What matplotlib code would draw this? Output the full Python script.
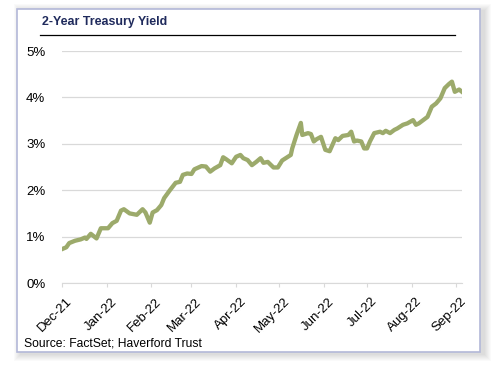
import matplotlib
matplotlib.use("Agg")
import matplotlib.pyplot as plt
import matplotlib.dates as mdates
import matplotlib.transforms as mtransforms
from matplotlib.patches import Rectangle
import pandas as pd

# 2-year treasury yield (%)
dates = ["2021-12-01", "2021-12-04", "2021-12-06", "2021-12-10", "2021-12-14",
         "2021-12-17", "2021-12-18", "2021-12-21", "2021-12-23", "2021-12-25",
         "2021-12-28", "2022-01-02", "2022-01-05", "2022-01-08", "2022-01-11",
         "2022-01-13", "2022-01-17", "2022-01-22", "2022-01-26", "2022-01-28",
         "2022-01-31", "2022-02-02", "2022-02-05", "2022-02-08", "2022-02-10",
         "2022-02-14", "2022-02-18", "2022-02-21", "2022-02-23", "2022-02-26",
         "2022-03-01", "2022-03-03", "2022-03-08", "2022-03-11", "2022-03-14",
         "2022-03-17", "2022-03-21", "2022-03-23", "2022-03-25", "2022-03-29",
         "2022-04-01", "2022-04-04", "2022-04-06", "2022-04-09", "2022-04-12",
         "2022-04-15", "2022-04-18", "2022-04-20", "2022-04-23", "2022-04-27",
         "2022-04-30", "2022-05-03", "2022-05-06", "2022-05-09", "2022-05-10",
         "2022-05-13", "2022-05-16", "2022-05-17", "2022-05-21", "2022-05-23",
         "2022-05-25", "2022-05-27", "2022-05-30", "2022-06-02", "2022-06-05",
         "2022-06-09", "2022-06-11", "2022-06-14", "2022-06-18", "2022-06-20",
         "2022-06-22", "2022-06-24", "2022-06-27", "2022-06-29", "2022-07-01",
         "2022-07-03", "2022-07-06", "2022-07-10", "2022-07-12", "2022-07-14",
         "2022-07-17", "2022-07-20", "2022-07-22", "2022-07-26", "2022-07-29",
         "2022-08-02", "2022-08-04", "2022-08-06", "2022-08-09", "2022-08-12",
         "2022-08-15", "2022-08-18", "2022-08-21", "2022-08-24", "2022-08-27",
         "2022-08-29", "2022-08-31", "2022-09-03", "2022-09-05"]
yields = [0.73, 0.77, 0.86, 0.91, 0.94, 0.98, 0.95, 1.06, 1.01, 0.96,
          1.18, 1.18, 1.29, 1.34, 1.56, 1.59, 1.50, 1.47, 1.59, 1.52,
          1.30, 1.52, 1.57, 1.68, 1.83, 2.00, 2.16, 2.18, 2.33, 2.36,
          2.35, 2.45, 2.52, 2.51, 2.40, 2.47, 2.54, 2.71, 2.67, 2.58,
          2.72, 2.76, 2.69, 2.65, 2.54, 2.61, 2.69, 2.59, 2.61, 2.49,
          2.49, 2.64, 2.70, 2.76, 2.90, 3.19, 3.45, 3.19, 3.23, 3.21,
          3.05, 3.10, 3.15, 2.87, 2.84, 3.12, 3.08, 3.17, 3.19, 3.26,
          3.05, 3.07, 3.05, 2.90, 2.90, 3.05, 3.23, 3.26, 3.23, 3.28,
          3.23, 3.30, 3.33, 3.41, 3.44, 3.51, 3.41, 3.44, 3.51, 3.58,
          3.80, 3.87, 3.98, 4.20, 4.29, 4.34, 4.12, 4.17, 4.12]
tick_months = pd.date_range("2021-12-01", "2022-09-01", freq="MS")
y_ticks = [0, 1, 2, 3, 4, 5]

plt.rcParams['font.family'] = ['Liberation Sans', 'DejaVu Sans']

W, H = 496, 368
fig = plt.figure(figsize=(W / 100, H / 100), dpi=100, facecolor="white")

# soft drop shadow + framed panel
for o in range(1, 8):
    fig.patches.append(Rectangle(((17 - o + 4) / W, 1 - (352 + o + 2) / H),
                                 (463 + 2 * o) / W, (343 + 2 * o) / H,
                                 transform=fig.transFigure, facecolor="black",
                                 edgecolor="none", alpha=0.018, zorder=0))
fig.patches.append(Rectangle((17 / W, 1 - 352 / H), 463 / W, 343 / H,
                             transform=fig.transFigure, facecolor="white",
                             edgecolor="#b3b8d8", linewidth=1.2, zorder=1))

fig.text(42 / W, 1 - 22 / H, "2-Year Treasury Yield", fontsize=8.9,
         fontweight="bold", color="#1f2a5c", va="center", ha="left", zorder=3)
fig.add_artist(plt.Line2D([40 / W, 455 / W], [1 - 35 / H, 1 - 35 / H],
                          transform=fig.transFigure, color="black", lw=0.9, zorder=3))
fig.text(24 / W, 1 - 343 / H, "Source: FactSet; Haverford Trust", fontsize=8.7,
         color="black", va="center", ha="left", zorder=3)

ax = fig.add_axes([62 / W, 1 - 283 / H, 400 / W, 232 / H], zorder=2)
ax.set_facecolor("none")
x = pd.to_datetime(dates)
ax.plot(x, yields, color="#9caa6b", lw=3.1, solid_joinstyle="round", zorder=3)

ax.set_ylim(0, 5)
ax.set_yticks(y_ticks)
ax.set_yticklabels([f"{v}%" for v in y_ticks])
ax.set_xlim(pd.Timestamp("2021-12-01"), pd.Timestamp("2022-09-05"))
ax.set_xticks(tick_months)
ax.xaxis.set_major_formatter(mdates.DateFormatter("%b-%y"))
ax.grid(axis="y", color="#d9d9d9", lw=0.9)
ax.set_axisbelow(True)
for s in ["top", "right", "left"]:
    ax.spines[s].set_visible(False)
ax.spines["bottom"].set_color("#d9d9d9")
ax.tick_params(axis="y", length=0, pad=12, labelsize=9.5)
ax.tick_params(axis="x", length=3, color="#d9d9d9", pad=6, labelsize=9.5)
shift = mtransforms.ScaledTranslation(4 / 100, 0, fig.dpi_scale_trans)
for lbl in ax.get_xticklabels():
    lbl.set_rotation(45)
    lbl.set_ha("right")
    lbl.set_va("top")
    lbl.set_rotation_mode("anchor")
    lbl.set_transform(lbl.get_transform() + shift)

fig.savefig("out.png", dpi=100)
